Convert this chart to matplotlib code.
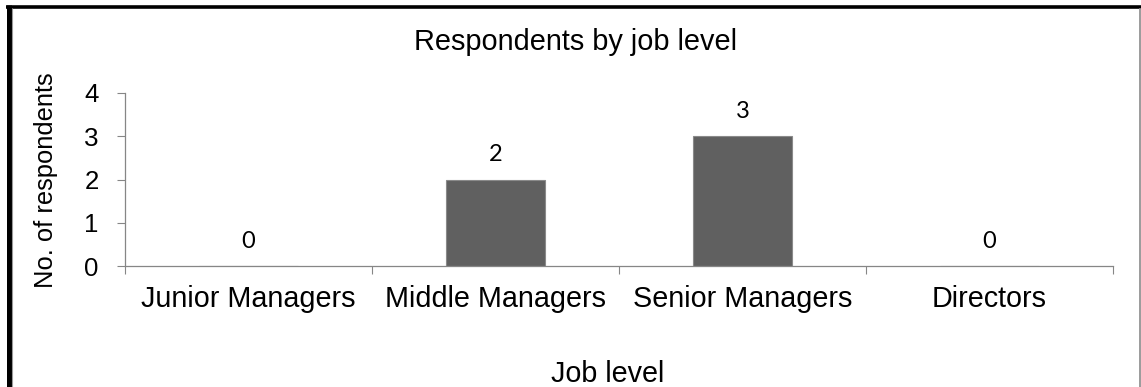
import matplotlib
matplotlib.use("Agg")
import matplotlib.pyplot as plt
from matplotlib.lines import Line2D

# Survey respondents per job level
job_levels = ["Junior Managers", "Middle Managers", "Senior Managers", "Directors"]
respondents = [0, 2, 3, 0]
y_ticks = [0, 1, 2, 3, 4]

W, H = 1141, 387
fig = plt.figure(figsize=(W / 100, H / 100), dpi=100)
fig.patch.set_facecolor("white")
plt.rcParams["font.family"] = ["Liberation Sans", "DejaVu Sans"]

ax = fig.add_axes([125 / W, 1 - 266 / H, (1113 - 125) / W, (266 - 93) / H])

x = list(range(len(job_levels)))
ax.bar(x, respondents, width=0.4, color="#606060", edgecolor="#8a8a8a", linewidth=0.8, zorder=2)

# value labels above each bar
for xi, v in zip(x, respondents):
    ax.annotate(str(v), (xi, v), xytext=(0, 13), textcoords="offset points",
                ha="center", va="baseline", fontsize=17, family=["Lato", "DejaVu Sans"],
                color="black")

ax.set_xlim(-0.5, len(job_levels) - 0.5)
ax.set_ylim(0, 4)
ax.set_yticks(y_ticks)
ax.set_yticklabels([str(t) for t in y_ticks], fontsize=18.6)

# category boundary ticks, labels centred on the categories
ax.set_xticks([i - 0.5 for i in range(len(job_levels) + 1)])
ax.set_xticklabels([])
ax.set_xticks(x, minor=True)
ax.set_xticklabels(job_levels, minor=True, fontsize=20.7)
ax.tick_params(axis="x", which="major", direction="out", length=6, width=0.8, color="#868686")
ax.tick_params(axis="x", which="minor", length=0, pad=14)
ax.tick_params(axis="y", direction="out", length=6, width=0.8, color="#868686", pad=13)

for side in ["top", "right"]:
    ax.spines[side].set_visible(False)
for side in ["left", "bottom"]:
    ax.spines[side].set_color("#868686")
    ax.spines[side].set_linewidth(0.9)

fig.text(575 / W, 1 - 50 / H, "Respondents by job level", ha="center", va="baseline", fontsize=20.8)
fig.text(608 / W, 1 - 382 / H, "Job level", ha="center", va="baseline", fontsize=20.7)
fig.text(46 / W, 1 - 180 / H, "No. of respondents", rotation=90, ha="center", va="center",
         fontsize=18.4)

# chart frame
fig.add_artist(Line2D([6 / W, 1], [1 - 6.5 / H, 1 - 6.5 / H], transform=fig.transFigure,
                      color="black", linewidth=2.6, solid_capstyle="butt"))
fig.add_artist(Line2D([8.5 / W, 8.5 / W], [0, 1 - 5 / H], transform=fig.transFigure,
                      color="black", linewidth=3.6, solid_capstyle="butt"))
fig.add_artist(Line2D([11.5 / W, 11.5 / W], [0, 1 - 8 / H], transform=fig.transFigure,
                      color="#9a9a9a", linewidth=0.8, solid_capstyle="butt"))
fig.add_artist(Line2D([1139.5 / W, 1139.5 / W], [0, 1 - 8 / H], transform=fig.transFigure,
                      color="#8a8a8a", linewidth=1.2, solid_capstyle="butt"))

fig.savefig("out.png", dpi=100, facecolor="white")
